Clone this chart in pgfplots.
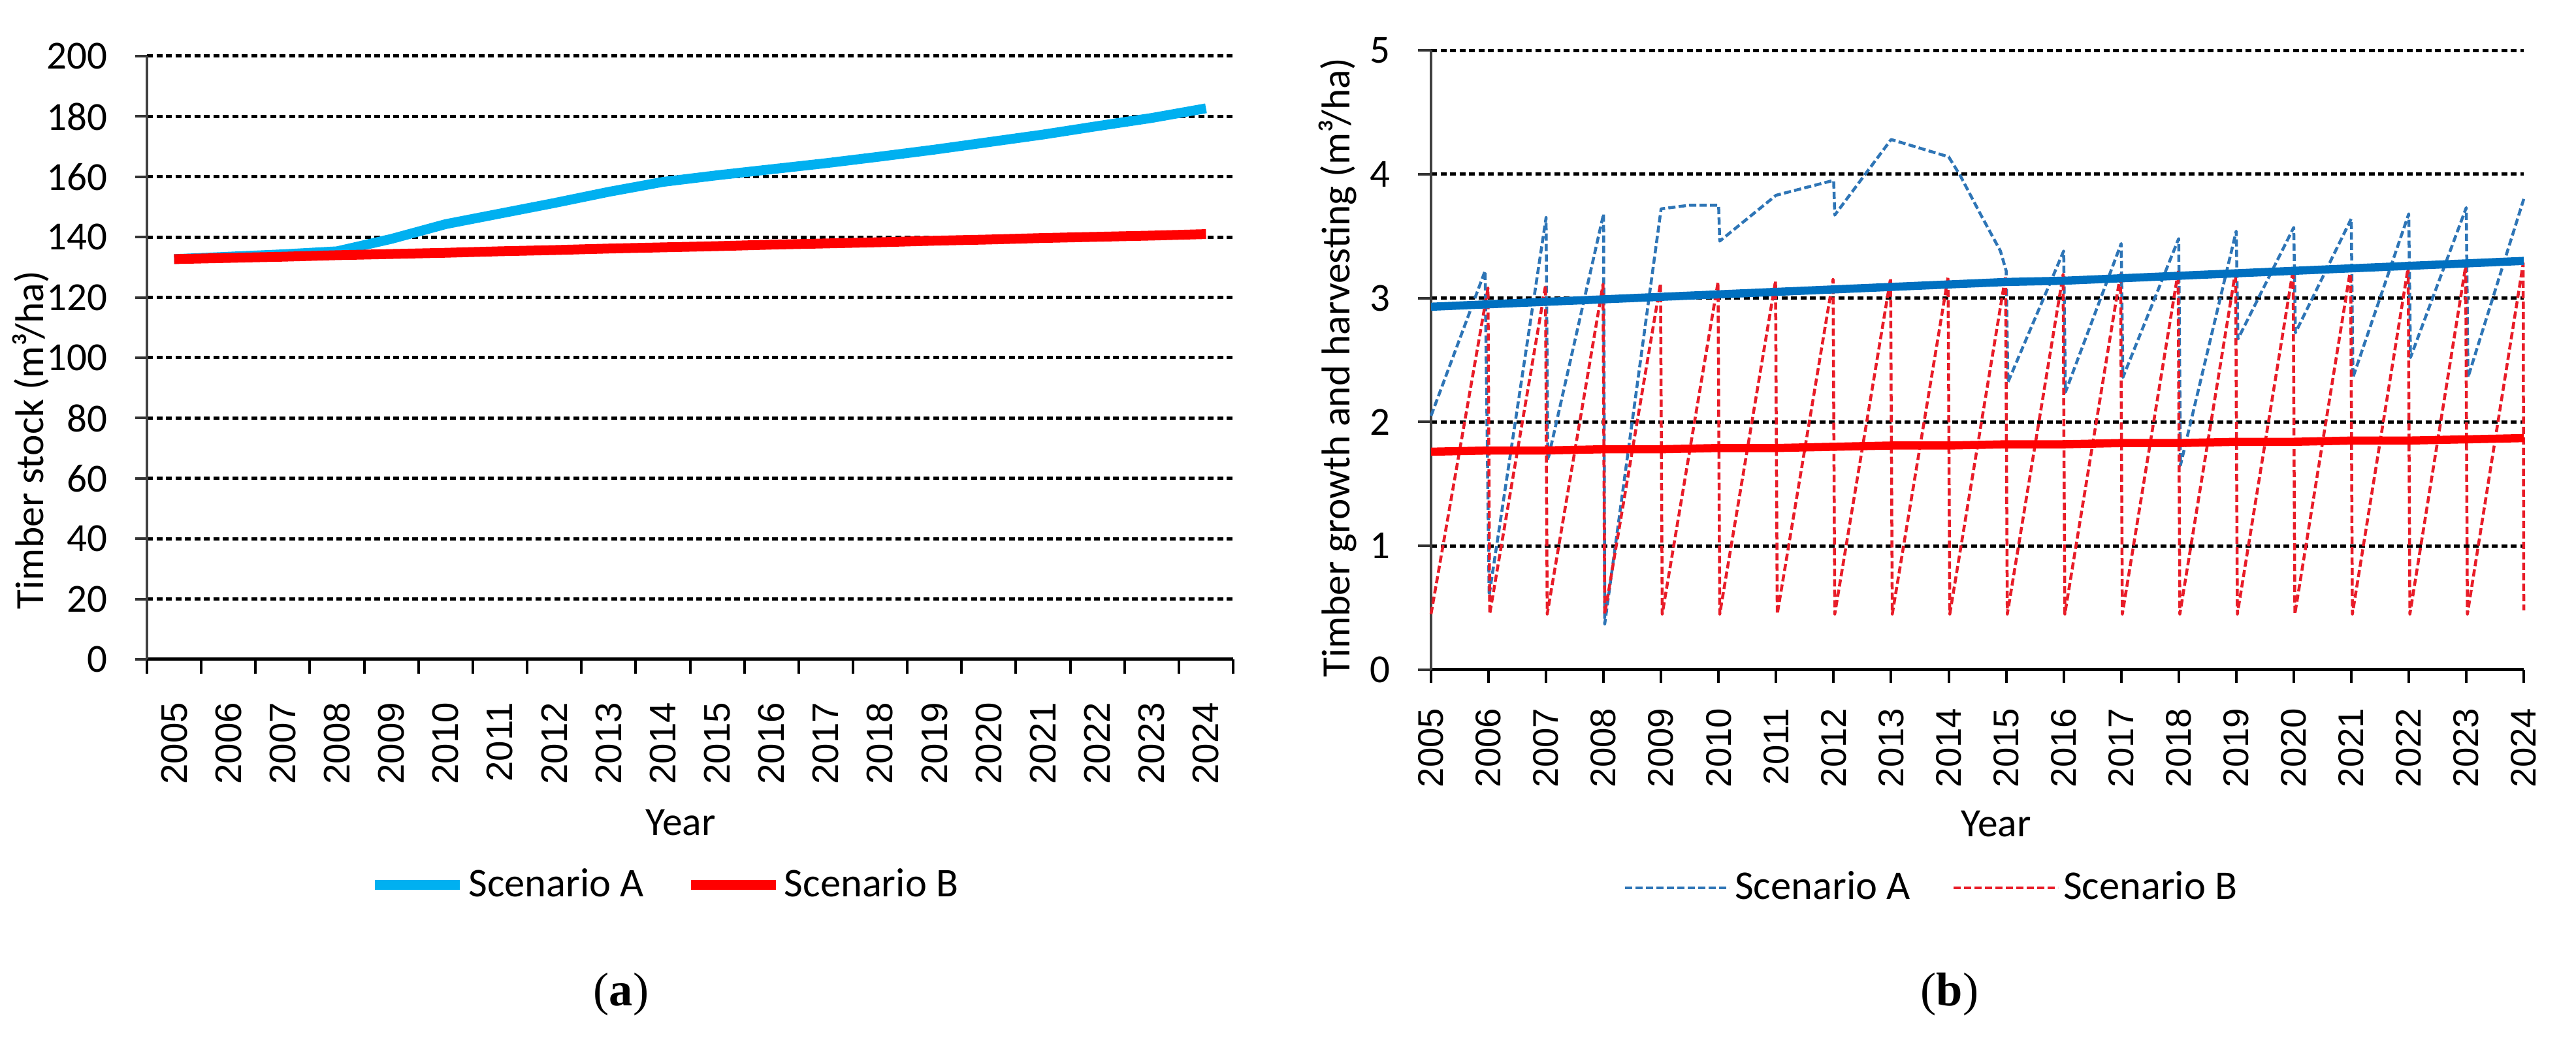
\documentclass[border=0pt]{standalone}
\usepackage{fontspec}
\setmainfont{Carlito}
\newfontfamily\arialf{Liberation Sans}
\newfontfamily\timesf{Liberation Serif}
\usepackage{pgfplots}
\pgfplotsset{compat=1.18}
\definecolor{lblue}{RGB}{0,176,240}
\definecolor{sred}{RGB}{255,0,0}
\definecolor{dblue}{RGB}{0,112,192}
\definecolor{dashblue}{RGB}{46,117,182}
\definecolor{dashred}{RGB}{232,28,40}
\pgfplotsset{
  chartbase/.style={
    scale only axis, anchor=south west, clip=false,
    axis x line*=bottom, axis y line*=left,
    tick align=outside,
    ymajorgrids,
    major grid style={black, line width=1bp, dash pattern=on 1.8bp off 1.1bp},
    x axis line style={black, line width=1bp},
    y axis line style={black!75, line width=0.8bp},
    /pgf/number format/assume math mode=true,
    yticklabel style={font=\fontsize{12.2bp}{14bp}\selectfont, inner sep=0pt},
    yticklabel shift=8.4bp,
    ytick style={black!80, line width=0.8bp},
    major tick length=3.6bp,
    label style={font=\fontsize{12.3bp}{14bp}\selectfont},
    legend cell align=left,
  }
}
\begin{document}
\begin{tikzpicture}
\path[use as bounding box] (0bp,0bp) rectangle (788.8bp,318bp);

% ---------------- panel (a)
\begin{axis}[chartbase,
  at={(45bp,116bp)}, width=332.6bp, height=184.8bp,
  xmin=-0.5, xmax=19.5, ymin=0, ymax=200,
  ytick={0,20,...,200},
  xtick={0,...,19},
  xticklabels={2005,2006,2007,2008,2009,2010,2011,2012,2013,2014,2015,2016,2017,2018,2019,2020,2021,2022,2023,2024},
  minor xtick={-0.5,0.5,...,19.5},
  every major x tick/.append style={draw=none},
  every minor x tick/.append style={black, line width=0.8bp},
  minor tick length=4.4bp,
  xticklabel style={rotate=90, anchor=east, inner sep=0pt, font=\arialf\fontsize{11.3bp}{13bp}\selectfont},
  xticklabel shift=9.4bp,
  xlabel={Year},
  xlabel style={at={(axis description cs:0.4913,-0.2706)}, anchor=center},
  ylabel={Timber stock (m³/ha)},
  ylabel style={at={(axis description cs:-0.107,0.3636)}, anchor=center},
  legend style={draw=none, fill=none, at={(axis description cs:0.4780,-0.3740)}, anchor=center,
    legend columns=2, font=\fontsize{12.5bp}{14bp}\selectfont,
    /tikz/every even column/.append style={column sep=11.6bp},
    inner sep=0pt, nodes={inner sep=1.2bp}},
  legend image code/.code={\draw[#1] (0bp,0bp) -- (26bp,0bp);},
]
\addplot[color=lblue, line width=3bp] coordinates {
(0,132.7) (1,133.5) (2,134.3) (3,135.3) (4,139.4) (5,144.3) (6,147.8) (7,151.3) (8,155.0) (9,158.3)
(10,160.5) (11,162.5) (12,164.5) (13,166.7) (14,169.0) (15,171.5) (16,174.0) (17,176.8) (18,179.5) (19,182.7)};
\addplot[color=sred, line width=3bp] coordinates {
(0,132.7) (1,133.1) (2,133.5) (3,134.0) (4,134.4) (5,134.8) (6,135.3) (7,135.7) (8,136.2) (9,136.6)
(10,137.0) (11,137.5) (12,137.9) (13,138.3) (14,138.8) (15,139.2) (16,139.7) (17,140.1) (18,140.5) (19,141.0)};
\legend{Scenario A, Scenario B}
\end{axis}

% ---------------- panel (b)
\begin{axis}[chartbase,
  at={(438.2bp,112.8bp)}, width=334.6bp, height=189.8bp,
  xmin=2005, xmax=2024, ymin=0, ymax=5,
  ytick={0,1,2,3,4,5},
  xtick={2005,2006,...,2024},
  xticklabels={2005,2006,2007,2008,2009,2010,2011,2012,2013,2014,2015,2016,2017,2018,2019,2020,2021,2022,2023,2024},
  xtick style={black, line width=0.8bp},
  major tick length=4bp,
  xticklabel style={rotate=90, anchor=east, inner sep=0pt, font=\arialf\fontsize{10.9bp}{13bp}\selectfont},
  xticklabel shift=7.6bp,
  xlabel={Year},
  xlabel style={at={(axis description cs:0.517,-0.2487)}, anchor=center},
  ylabel={Timber growth and harvesting (m³/ha)},
  ylabel style={at={(axis description cs:-0.0855,0.4879)}, anchor=center},
  legend style={draw=none, fill=none, at={(axis description cs:0.4588,-0.352)}, anchor=center,
    legend columns=2, font=\fontsize{12.5bp}{14bp}\selectfont,
    /tikz/every even column/.append style={column sep=11.6bp},
    inner sep=0pt, nodes={inner sep=1.2bp}},
  legend image code/.code={\draw[#1] (0bp,0bp) -- (32bp,0bp);},
]
\addplot[color=dashblue, line width=0.9bp, dash pattern=on 2.2bp off 1bp, line join=round] coordinates {
(2005.00,2.05) (2005.94,3.22) (2006.01,0.60) (2007.00,3.65) (2007.03,1.69) (2008.00,3.68) (2008.02,0.37)
(2009.00,3.72) (2009.50,3.75) (2010.00,3.75) (2010.02,3.46) (2011.00,3.83) (2012.00,3.95) (2012.02,3.67)
(2013.00,4.28) (2014.00,4.14) (2014.20,3.99) (2014.55,3.68) (2014.90,3.38) (2015.00,3.22) (2015.03,2.32)
(2016.00,3.38) (2016.03,2.24) (2017.00,3.44) (2017.03,2.36) (2018.00,3.48) (2018.03,1.65)
(2019.00,3.54) (2019.03,2.67) (2020.00,3.57) (2020.03,2.72) (2021.00,3.64) (2021.03,2.36)
(2022.00,3.68) (2022.03,2.52) (2023.00,3.73) (2023.03,2.36) (2024.00,3.80)};
\addplot[color=dashred, line width=0.9bp, dash pattern=on 2.2bp off 1bp, line join=round] coordinates {
(2005.00,0.45)
(2005.99,3.08) (2006.02,0.45) (2006.99,3.10) (2007.02,0.45) (2007.99,3.11) (2008.02,0.45)
(2008.99,3.12) (2009.02,0.45) (2009.99,3.13) (2010.02,0.45) (2010.99,3.14) (2011.02,0.45)
(2011.99,3.15) (2012.02,0.45) (2012.99,3.16) (2013.02,0.45) (2013.99,3.17) (2014.02,0.45)
(2014.99,3.18) (2015.02,0.45) (2015.99,3.19) (2016.02,0.45) (2016.99,3.20) (2017.02,0.45)
(2017.99,3.21) (2018.02,0.45) (2018.99,3.22) (2019.02,0.45) (2019.99,3.23) (2020.02,0.45)
(2020.99,3.24) (2021.02,0.45) (2021.99,3.25) (2022.02,0.45) (2022.99,3.26) (2023.02,0.45)
(2023.99,3.28) (2024.00,0.48)};
\addplot[color=dblue, line width=2.5bp, forget plot] coordinates {
(2005,2.93) (2006,2.95) (2007,2.97) (2008,2.99) (2009,3.01) (2010,3.03) (2011,3.05) (2012,3.07) (2013,3.09) (2014,3.11)
(2015,3.13) (2016,3.14) (2017,3.16) (2018,3.18) (2019,3.20) (2020,3.22) (2021,3.24) (2022,3.26) (2023,3.28) (2024,3.30)};
\addplot[color=sred, line width=2.5bp, forget plot] coordinates {
(2005,1.76) (2006,1.77) (2007,1.77) (2008,1.78) (2009,1.78) (2010,1.79) (2011,1.79) (2012,1.80) (2013,1.81) (2014,1.81)
(2015,1.82) (2016,1.82) (2017,1.83) (2018,1.83) (2019,1.84) (2020,1.84) (2021,1.85) (2022,1.85) (2023,1.86) (2024,1.87)};
\legend{Scenario A, Scenario B}
\end{axis}

\node[font=\timesf\fontsize{14.5bp}{16bp}\selectfont] at (190.2bp,13.4bp) {(\textbf{a})};
\node[font=\timesf\fontsize{14.5bp}{16bp}\selectfont] at (597bp,13.4bp) {(\textbf{b})};
\end{tikzpicture}
\end{document}
